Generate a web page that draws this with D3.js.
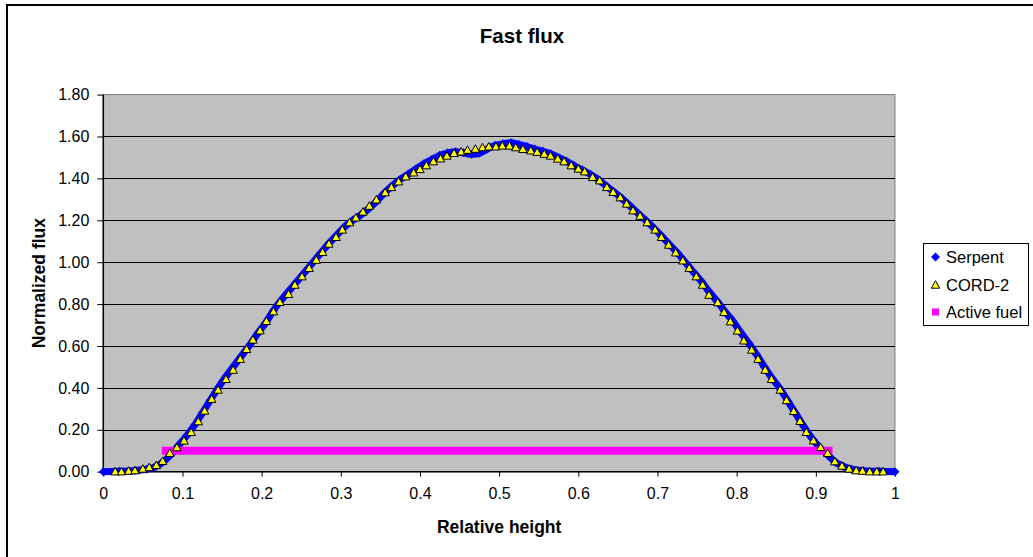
<!DOCTYPE html>
<html>
<head>
<meta charset="utf-8">
<script src="https://cdn.jsdelivr.net/npm/d3@7"></script>
<style>
  html, body { margin: 0; padding: 0; background: #fff; }
  svg { display: block; font-family: "Liberation Sans", Arial, sans-serif; }
</style>
</head>
<body>
<svg id="chart" width="1033" height="557"></svg>
<script>
// ---------- DATA ----------
const chartTitle = "Fast flux";
const xAxisTitle = "Relative height";
const yAxisTitle = "Normalized flux";
const seriesNames = ["Serpent", "CORD-2", "Active fuel"];
const xTicks = [0, 0.1, 0.2, 0.3, 0.4, 0.5, 0.6, 0.7, 0.8, 0.9, 1];
const xTickLabels = ["0", "0.1", "0.2", "0.3", "0.4", "0.5", "0.6", "0.7", "0.8", "0.9", "1"];
const yTicks = [0, 0.2, 0.4, 0.6, 0.8, 1.0, 1.2, 1.4, 1.6, 1.8];
const yTickLabels = ["0.00", "0.20", "0.40", "0.60", "0.80", "1.00", "1.20", "1.40", "1.60", "1.80"];

const serpentX = [0, 0.02, 0.04, 0.055, 0.065, 0.075, 0.085, 0.095, 0.105, 0.115, 0.125, 0.135, 0.145, 0.155, 0.165, 0.175, 0.185, 0.195, 0.205, 0.215, 0.225, 0.235, 0.245, 0.255, 0.265, 0.275, 0.285, 0.295, 0.305, 0.315, 0.325, 0.335, 0.345, 0.355, 0.365, 0.375, 0.385, 0.395, 0.405, 0.415, 0.425, 0.435, 0.445, 0.455, 0.465, 0.475, 0.485, 0.495, 0.505, 0.515, 0.525, 0.535, 0.545, 0.555, 0.565, 0.575, 0.585, 0.595, 0.605, 0.615, 0.625, 0.635, 0.645, 0.655, 0.665, 0.675, 0.685, 0.695, 0.705, 0.715, 0.725, 0.735, 0.745, 0.755, 0.765, 0.775, 0.785, 0.795, 0.805, 0.815, 0.825, 0.835, 0.845, 0.855, 0.865, 0.875, 0.885, 0.895, 0.905, 0.915, 0.925, 0.935, 0.945, 0.96, 0.98, 1.0];
const serpentY = [0, 0.002, 0.006, 0.012, 0.022, 0.045, 0.08, 0.125, 0.17, 0.22, 0.28, 0.34, 0.4, 0.455, 0.505, 0.555, 0.605, 0.66, 0.71, 0.77, 0.82, 0.865, 0.91, 0.955, 1.0, 1.045, 1.09, 1.13, 1.17, 1.2, 1.225, 1.255, 1.29, 1.33, 1.365, 1.395, 1.42, 1.445, 1.47, 1.49, 1.51, 1.522, 1.527, 1.522, 1.515, 1.52, 1.54, 1.558, 1.565, 1.57, 1.562, 1.552, 1.54, 1.53, 1.518, 1.5, 1.482, 1.46, 1.44, 1.42, 1.395, 1.365, 1.335, 1.305, 1.27, 1.235, 1.2, 1.165, 1.125, 1.085, 1.045, 1.0, 0.955, 0.91, 0.86, 0.815, 0.765, 0.72, 0.665, 0.615, 0.56, 0.5, 0.445, 0.395, 0.335, 0.275, 0.215, 0.16, 0.115, 0.08, 0.045, 0.025, 0.012, 0.005, 0.002, 0];

const cordX = [0.015, 0.023, 0.032, 0.040, 0.050, 0.058, 0.067, 0.075, 0.084, 0.093, 0.102, 0.111, 0.120, 0.128, 0.137, 0.145, 0.155, 0.164, 0.173, 0.181, 0.189, 0.198, 0.206, 0.215, 0.223, 0.234, 0.242, 0.251, 0.260, 0.269, 0.277, 0.285, 0.294, 0.302, 0.311, 0.319, 0.328, 0.336, 0.345, 0.356, 0.364, 0.373, 0.382, 0.392, 0.400, 0.408, 0.417, 0.426, 0.434, 0.443, 0.452, 0.460, 0.470, 0.479, 0.487, 0.496, 0.504, 0.513, 0.521, 0.530, 0.540, 0.548, 0.557, 0.565, 0.574, 0.582, 0.591, 0.600, 0.608, 0.618, 0.627, 0.636, 0.644, 0.653, 0.661, 0.669, 0.678, 0.687, 0.697, 0.705, 0.714, 0.723, 0.732, 0.740, 0.749, 0.757, 0.765, 0.776, 0.784, 0.792, 0.801, 0.809, 0.819, 0.827, 0.836, 0.844, 0.855, 0.863, 0.872, 0.880, 0.888, 0.897, 0.906, 0.915, 0.924, 0.933, 0.942, 0.951, 0.959, 0.968, 0.977, 0.985];
const cordY = [0, 0, 0.003, 0.005, 0.013, 0.02, 0.03, 0.05, 0.088, 0.115, 0.147, 0.188, 0.239, 0.29, 0.346, 0.39, 0.441, 0.485, 0.537, 0.584, 0.629, 0.673, 0.718, 0.764, 0.809, 0.847, 0.891, 0.931, 0.971, 1.01, 1.047, 1.087, 1.119, 1.154, 1.189, 1.212, 1.24, 1.268, 1.298, 1.332, 1.357, 1.384, 1.408, 1.427, 1.443, 1.461, 1.48, 1.494, 1.507, 1.52, 1.527, 1.535, 1.54, 1.547, 1.551, 1.551, 1.555, 1.555, 1.547, 1.539, 1.532, 1.525, 1.516, 1.507, 1.493, 1.48, 1.461, 1.445, 1.432, 1.405, 1.389, 1.357, 1.334, 1.308, 1.278, 1.246, 1.22, 1.189, 1.154, 1.119, 1.082, 1.045, 1.007, 0.971, 0.931, 0.891, 0.843, 0.807, 0.761, 0.716, 0.672, 0.625, 0.581, 0.537, 0.485, 0.441, 0.39, 0.34, 0.288, 0.241, 0.188, 0.148, 0.116, 0.088, 0.048, 0.027, 0.013, 0.005, 0.003, 0, 0, 0];

const activeX = [0.079, 0.916];
const activeY = [0.10, 0.10];

// ---------- LAYOUT ----------
const svg = d3.select("#chart");
const plot = { left: 103.3, right: 895, top: 94.6, bottom: 471.7 };
const x = d3.scaleLinear().domain([0, 1]).range([plot.left, plot.right]);
const y = d3.scaleLinear().domain([0, 1.8]).range([plot.bottom, plot.top]);

// outer chart border
svg.append("rect").attr("x", 7).attr("y", 5).attr("width", 1040).attr("height", 570)
  .attr("fill", "#fff").attr("stroke", "#000").attr("stroke-width", 2);

// plot background
svg.append("rect").attr("x", plot.left).attr("y", plot.top)
  .attr("width", plot.right - plot.left).attr("height", plot.bottom - plot.top)
  .attr("fill", "#C0C0C0").attr("stroke", "#808080").attr("stroke-width", 1);

// gridlines
svg.append("g").selectAll("line").data(yTicks.filter(d => d > 0 && d < 1.8)).join("line")
  .attr("x1", plot.left).attr("x2", plot.right)
  .attr("y1", d => Math.round(y(d)) + 0.5).attr("y2", d => Math.round(y(d)) + 0.5)
  .attr("stroke", "#000").attr("stroke-width", 1);

// axes
const yAxis = d3.axisLeft(y).tickValues(yTicks).tickFormat((d, i) => yTickLabels[i]).tickSize(6).tickPadding(8);
const gy = svg.append("g").attr("transform", `translate(${plot.left},0)`).call(yAxis);
const xAxis = d3.axisBottom(x).tickValues(xTicks).tickFormat((d, i) => xTickLabels[i]).tickSize(5).tickPadding(11);
const gx = svg.append("g").attr("transform", `translate(0,${plot.bottom})`).call(xAxis);
[gx, gy].forEach(g => {
  g.selectAll("path.domain").attr("stroke", "#000").attr("stroke-width", 1.5);
  g.selectAll(".tick line").attr("stroke", "#000");
  g.selectAll(".tick text").attr("font-family", "'Liberation Sans', Arial, sans-serif")
    .attr("font-size", 16).attr("fill", "#000");
});
gy.select("path.domain").attr("d", `M0,${plot.top}V${plot.bottom}`);
gx.select("path.domain").attr("d", `M${plot.left},0H${plot.right}`);

const serpent = serpentX.map((d, i) => [d, serpentY[i]]);
const cord = cordX.map((d, i) => [d, cordY[i]]);
const active = activeX.map((d, i) => [d, activeY[i]]);

const line = d3.line().x(d => x(d[0])).y(d => y(d[1])).curve(d3.curveCatmullRom);

// Serpent: dense diamond markers -> thick blue band
svg.append("path").datum(serpent).attr("d", line)
  .attr("fill", "none").attr("stroke", "#0000FF").attr("stroke-width", 7).attr("stroke-linejoin", "round");
svg.append("g").selectAll("path").data(serpent).join("path")
  .attr("transform", d => `translate(${x(d[0])},${y(d[1])})`)
  .attr("d", "M0,-4.5L4.5,0L0,4.5L-4.5,0Z").attr("fill", "#0000FF");

// Active fuel
svg.append("path").datum(active).attr("d", d3.line().x(d => x(d[0])).y(d => y(d[1])))
  .attr("fill", "none").attr("stroke", "#FF00FF").attr("stroke-width", 8).attr("stroke-linecap", "square");

// CORD-2 triangles
const tri = "M0,-4.3L4.2,3.2L-4.2,3.2Z";
svg.append("g").selectAll("path").data(cord).join("path")
  .attr("transform", d => `translate(${x(d[0])},${y(d[1])})`)
  .attr("d", tri).attr("fill", "#FFFF00").attr("stroke", "#000").attr("stroke-width", 1);

// titles
svg.append("text").attr("x", 522).attr("y", 43).attr("text-anchor", "middle")
  .attr("font-size", 20.5).attr("font-weight", "bold").text(chartTitle);
svg.append("text").attr("x", (plot.left + plot.right) / 2).attr("y", 533).attr("text-anchor", "middle")
  .attr("font-size", 17.5).attr("font-weight", "bold").text(xAxisTitle);
svg.append("text").attr("transform", `translate(45,${(plot.top + plot.bottom) / 2}) rotate(-90)`)
  .attr("text-anchor", "middle").attr("font-size", 17.5).attr("font-weight", "bold").text(yAxisTitle);

// legend
const lg = svg.append("g");
lg.append("rect").attr("x", 923.5).attr("y", 243.5).attr("width", 105).attr("height", 82)
  .attr("fill", "#fff").attr("stroke", "#000").attr("stroke-width", 1);
const legendY = [257, 285, 312];
const legendShapes = [
  { d: "M0,-4.5L4.5,0L0,4.5L-4.5,0Z", fill: "#0000FF", stroke: "none" },
  { d: tri, fill: "#FFFF00", stroke: "#000" },
  { d: "M-3.5,-3.5H3.5V3.5H-3.5Z", fill: "#FF00FF", stroke: "none" }
];
seriesNames.forEach((name, i) => {
  lg.append("path").attr("transform", `translate(935.5,${legendY[i]})`)
    .attr("d", legendShapes[i].d).attr("fill", legendShapes[i].fill).attr("stroke", legendShapes[i].stroke);
  lg.append("text").attr("x", 946).attr("y", legendY[i] + 6).attr("font-size", 16.5).text(name);
});
</script>
</body>
</html>
